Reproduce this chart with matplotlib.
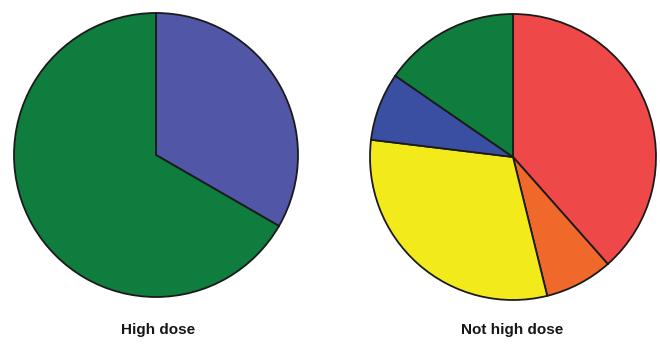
import matplotlib.pyplot as plt

# counts per group, clockwise from 12 o'clock
high_vals = [1, 2]
high_colors = ['#5157a6', '#0e7d3e']

not_high_vals = [5, 1, 4, 1, 2]
not_high_colors = ['#ee4848', '#f0692a', '#f3ea1c', '#3a4fa2', '#0e7d3e']

titles = ['High dose', 'Not high dose']

W, H = 660, 344
fig = plt.figure(figsize=(W / 100, H / 100), dpi=100)


def pie_axes(cx, cy, r):
    return fig.add_axes([(cx - r) / W, (H - cy - r) / H, 2 * r / W, 2 * r / H])


wedge_style = dict(edgecolor='#1a1a1a', linewidth=1.3)

ax1 = pie_axes(156, 155, 142)
ax1.pie(high_vals, colors=high_colors, startangle=90, counterclock=False,
        radius=1, wedgeprops=wedge_style)
ax1.set_xlim(-1, 1)
ax1.set_ylim(-1, 1)
ax1.set_aspect('equal')
ax1.axis('off')

ax2 = pie_axes(513, 157, 143)
ax2.pie(not_high_vals, colors=not_high_colors, startangle=90, counterclock=False,
        radius=1, wedgeprops=wedge_style)
ax2.set_xlim(-1, 1)
ax2.set_ylim(-1, 1)
ax2.set_aspect('equal')
ax2.axis('off')

label_style = dict(ha='center', va='center', fontsize=11, fontweight='bold',
                   family='Liberation Sans', color='#161616')
fig.text(158 / W, 1 - 330 / H, titles[0], **label_style)
fig.text(512 / W, 1 - 330 / H, titles[1], **label_style)

fig.savefig('out.png', dpi=100)
